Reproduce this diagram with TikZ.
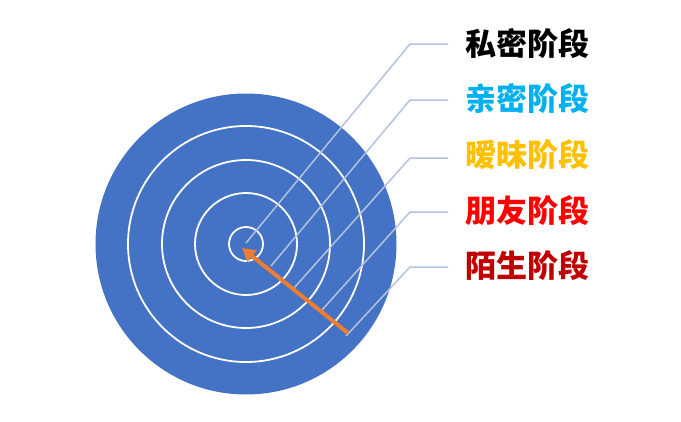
\documentclass[tikz,border=0pt]{standalone}
\usepackage{fontspec}
\usetikzlibrary{arrows.meta}
\newfontfamily\cjk{Noto Sans CJK SC}
\definecolor{disc}{RGB}{68,114,196}
\definecolor{leader}{RGB}{180,194,224}
\definecolor{arr}{RGB}{237,125,49}
\definecolor{cA}{RGB}{0,0,0}
\definecolor{cB}{RGB}{0,176,240}
\definecolor{cC}{RGB}{255,192,0}
\definecolor{cD}{RGB}{255,0,0}
\definecolor{cE}{RGB}{192,0,0}
\begin{document}
\begin{tikzpicture}[x=1pt,y=-1pt,
  ring/.style={circle, draw=white, line width=1.8pt, inner sep=0pt, minimum size=#1},
  leaderline/.style={draw=leader, line width=1.5pt},
  lbl/.style={anchor=west, inner sep=0pt, font=\cjk\bfseries\fontsize{31}{31}\selectfont}]
\useasboundingbox (0,0) rectangle (681,421);
\node[circle, fill=disc, inner sep=0pt, minimum size=301pt] (disc) at (246,244) {};
\node[ring=236pt] (r1) at (246,244) {};
\node[ring=168pt] (r2) at (246,244) {};
\node[ring=102pt] (r3) at (246,244) {};
\node[ring=34pt]  (r4) at (246,244) {};
% labels
\node[lbl, text=cA] (t1) at (465,44) {私密阶段};
\node[lbl, text=cB] (t2) at (465,99) {亲密阶段};
\node[lbl, text=cC] (t3) at (465,155) {暧昧阶段};
\node[lbl, text=cD] (t4) at (465,211) {朋友阶段};
\node[lbl, text=cE] (t5) at (465,266) {陌生阶段};
% leader anchors
\coordinate (s1) at (246,243);
\coordinate (s2) at (271,266);
\coordinate (s3) at (294,288);
\coordinate (s4) at (322,310);
\coordinate (s5) at (346,336);
\coordinate (e1) at (410,44);
\coordinate (e2) at (410,100);
\coordinate (e3) at (410,158);
\coordinate (e4) at (410,212);
\coordinate (e5) at (410,267);
\coordinate (h1) at (448,44);
\coordinate (h2) at (448,100);
\coordinate (h3) at (448,158);
\coordinate (h4) at (448,212);
\coordinate (h5) at (448,267);
\draw[leaderline] (s1) -- (e1) -- (h1);
\draw[leaderline] (s2) -- (e2) -- (h2);
\draw[leaderline] (s3) -- (e3) -- (h3);
\draw[leaderline] (s4) -- (e4) -- (h4);
\draw[leaderline] (s5) -- (e5) -- (h5);
% arrow
\coordinate (atail) at (348,333);
\coordinate (ahead) at (242,248);
\draw[arr, line width=4pt, -{Triangle[length=13pt,width=14pt]}] (atail) -- (ahead);
\end{tikzpicture}
\end{document}
